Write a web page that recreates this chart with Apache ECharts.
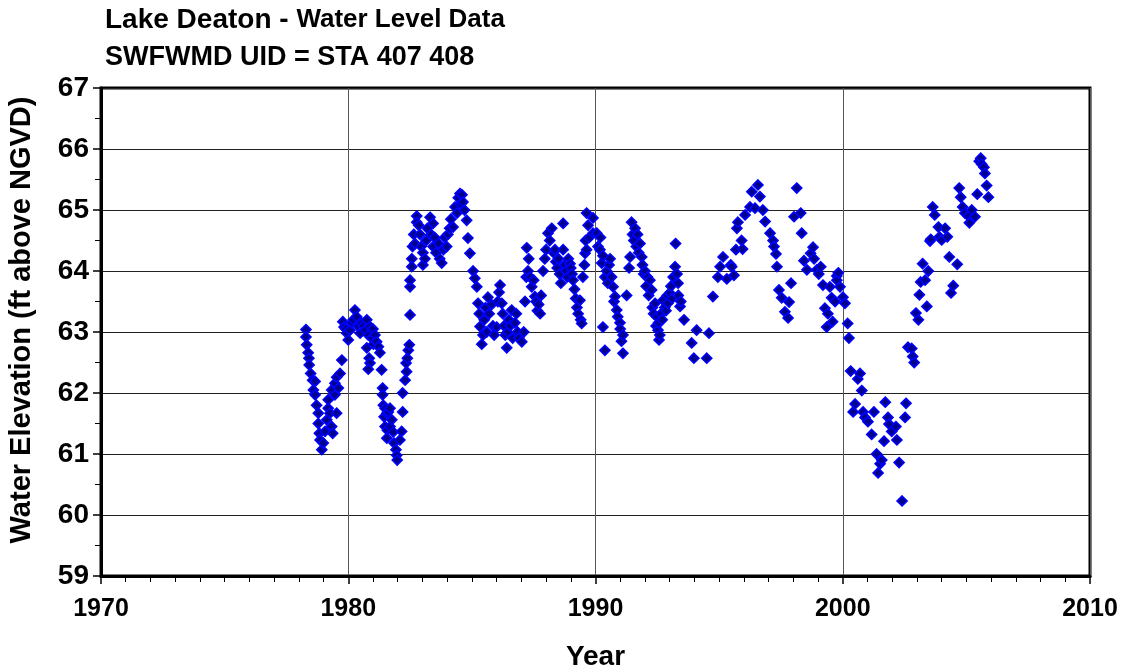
<!DOCTYPE html>
<html>
<head>
<meta charset="utf-8">
<script src="https://cdn.jsdelivr.net/npm/echarts@6/dist/echarts.min.js"></script>
<style>
html,body{margin:0;padding:0;background:#fff;}
#chart{width:1123px;height:670px;}
</style>
</head>
<body>
<div id="chart"></div>
<script>
// Water level readings [decimal year, elevation ft above NGVD]
var levels1978to1982 = [
[1978.29,63.04],[1978.29,62.92],[1978.32,62.79],[1978.38,62.66],[1978.41,62.57],[1978.42,62.46],[1978.48,62.32],[1978.56,62.21],[1978.59,62.05],[1978.66,62.19],[1978.66,61.97],[1978.72,61.80],[1978.79,61.67],[1978.79,61.50],[1978.83,61.34],[1978.86,61.23],[1978.93,61.07],[1978.99,61.18],[1979.06,61.37],[1979.13,61.56],[1979.19,61.75],[1979.19,61.89],[1979.26,61.67],[1979.33,61.45],[1979.37,61.34],[1979.33,62.05],[1979.46,62.16],[1979.46,61.97],[1979.53,61.67],[1979.53,62.26],[1979.60,62.08],[1979.67,62.32],[1979.74,62.54],[1979.78,63.17],[1979.83,63.08],[1979.90,63.05],[1979.94,62.98],[1980.00,62.87],[1980.07,63.03],[1980.14,63.15],[1980.20,63.20],[1980.27,63.36],[1980.34,63.25],[1980.41,63.09],[1980.48,62.98],[1980.54,63.15],[1980.60,63.10],[1980.68,63.03],[1980.75,63.20],[1980.81,62.95],[1980.88,63.09],[1980.95,62.90],[1980.75,62.74],[1980.85,62.57],[1980.88,62.49],[1980.81,62.39],[1981.00,63.05],[1981.02,62.80],[1981.08,62.95],[1981.15,62.84],[1981.22,62.76],[1981.28,62.66],[1981.35,62.38],[1981.39,62.08],[1981.39,61.97],[1981.42,61.80],[1981.49,61.75],[1981.45,61.61],[1981.56,61.67],[1981.62,61.69],[1981.69,61.75],[1981.49,61.45],[1981.58,61.39],[1981.56,61.26],[1981.69,61.45],[1981.76,61.56],[1981.82,61.36],[1981.85,61.18],[1981.93,61.07],[1981.96,60.98],[1981.98,60.90],[1982.09,61.23],[1982.16,61.37],[1982.20,61.69],[1982.20,62.00],[1982.30,62.21],[1982.36,62.35],[1982.34,62.49],[1982.39,62.57],[1982.43,62.70],[1982.47,62.79],[1982.50,63.28],[1982.50,63.74]
];
var levels1982to1990 = [
[1982.50,63.85],[1982.57,64.20],[1982.57,64.07],[1982.60,64.40],[1982.65,64.60],[1982.70,64.45],[1982.77,64.90],[1982.77,64.80],[1982.85,64.75],[1982.90,64.60],[1982.95,64.40],[1983.02,64.30],[1983.02,64.10],[1983.10,64.20],[1983.15,64.50],[1983.20,64.70],[1983.31,64.88],[1983.35,64.60],[1983.43,64.78],[1983.43,64.40],[1983.50,64.55],[1983.55,64.30],[1983.65,64.45],[1983.70,64.20],[1983.78,64.13],[1983.85,64.35],[1983.90,64.55],[1983.98,64.40],[1984.03,64.60],[1984.10,64.70],[1984.15,64.85],[1984.24,64.72],[1984.32,65.05],[1984.40,64.95],[1984.45,65.20],[1984.52,65.27],[1984.55,65.10],[1984.60,65.25],[1984.64,65.13],[1984.70,65.00],[1984.79,64.83],[1984.84,64.54],[1984.92,64.29],[1985.05,64.00],[1985.12,63.88],[1985.20,63.74],[1985.25,63.47],[1985.30,63.30],[1985.33,63.09],[1985.40,62.80],[1985.45,62.95],[1985.50,63.20],[1985.55,63.40],[1985.60,63.00],[1985.65,63.57],[1985.70,63.30],[1985.80,63.45],[1985.85,63.10],[1985.90,62.95],[1986.00,63.08],[1986.05,63.50],[1986.10,63.65],[1986.14,63.77],[1986.21,63.47],[1986.25,63.30],[1986.30,63.10],[1986.35,62.95],[1986.41,62.74],[1986.45,63.00],[1986.50,63.20],[1986.55,63.10],[1986.61,63.36],[1986.65,62.90],[1986.74,63.15],[1986.80,63.30],[1986.85,63.00],[1986.90,62.90],[1987.02,62.84],[1987.10,63.00],[1987.15,63.50],[1987.20,63.90],[1987.22,64.38],[1987.27,64.00],[1987.30,64.20],[1987.35,63.90],[1987.42,63.74],[1987.50,63.85],[1987.55,63.58],[1987.60,63.50],[1987.65,63.35],[1987.70,63.45],[1987.76,63.30],[1987.80,63.60],[1987.88,64.00],[1987.95,64.20],[1988.00,64.35],[1988.08,64.62],[1988.15,64.50],[1988.23,64.70],[1988.30,64.30],[1988.36,64.35],[1988.40,64.15],[1988.45,64.05],[1988.50,64.20],[1988.55,63.95],[1988.60,63.80],[1988.69,64.78],[1988.69,64.35],[1988.75,64.10],[1988.80,64.00],[1988.85,63.90],[1988.90,64.20],[1988.97,64.12],[1989.00,64.05],[1989.05,63.95],[1989.09,63.85],[1989.15,63.70],[1989.20,63.55],[1989.25,63.40],[1989.30,63.30],[1989.37,63.52],[1989.40,63.20],[1989.44,63.14],[1989.49,63.90],[1989.55,64.10],[1989.58,64.29],[1989.60,64.50],[1989.64,64.95],[1989.64,64.35],[1989.70,64.75],[1989.75,64.55],[1989.90,64.62],[1989.90,64.87]
];
var levels1990to1995 = [
[1990.05,64.62],[1990.10,64.40],[1990.18,64.35],[1990.20,64.55],[1990.25,64.13],[1990.30,64.25],[1990.30,63.08],[1990.38,63.90],[1990.38,62.70],[1990.45,64.00],[1990.50,63.80],[1990.55,64.10],[1990.59,64.20],[1990.65,63.90],[1990.71,63.74],[1990.75,63.50],[1990.79,63.58],[1990.86,63.36],[1990.90,63.25],[1990.99,63.15],[1991.00,63.05],[1991.05,62.85],[1991.11,62.95],[1991.11,62.65],[1991.26,63.60],[1991.36,64.05],[1991.40,64.23],[1991.46,64.80],[1991.50,64.60],[1991.55,64.50],[1991.60,64.70],[1991.65,64.40],[1991.70,64.60],[1991.75,64.30],[1991.80,64.45],[1991.87,64.23],[1991.90,64.10],[1991.95,63.95],[1992.00,64.00],[1992.05,63.75],[1992.10,63.90],[1992.15,63.60],[1992.20,63.85],[1992.27,63.69],[1992.30,63.40],[1992.35,63.30],[1992.41,63.47],[1992.45,63.10],[1992.48,63.25],[1992.53,63.03],[1992.55,63.15],[1992.57,62.87],[1992.60,62.95],[1992.65,63.30],[1992.70,63.20],[1992.73,63.52],[1992.80,63.40],[1992.85,63.35],[1992.90,63.60],[1992.93,63.47],[1993.01,63.64],[1993.05,63.75],[1993.10,63.55],[1993.14,63.90],[1993.22,64.07],[1993.24,64.45],[1993.30,63.95],[1993.34,63.80],[1993.35,63.60],[1993.42,63.42],[1993.45,63.50],[1993.58,63.20],[1993.89,62.82],[1993.98,62.57],[1994.09,63.03],[1994.50,62.57],[1994.59,62.98],[1994.75,63.58],[1994.95,63.90]
];
var levels1995to2000 = [
[1995.04,64.07],[1995.16,64.23],[1995.31,63.87],[1995.47,64.10],[1995.51,64.07],[1995.60,63.93],[1995.68,64.35],[1995.72,64.70],[1995.76,64.80],[1995.91,64.50],[1995.95,64.36],[1996.05,64.92],[1996.25,65.05],[1996.32,65.30],[1996.45,65.03],[1996.57,65.41],[1996.65,65.22],[1996.77,65.00],[1996.86,64.81],[1997.06,64.62],[1997.18,64.50],[1997.22,64.40],[1997.30,64.28],[1997.34,64.07],[1997.42,63.69],[1997.53,63.56],[1997.66,63.33],[1997.79,63.23],[1997.83,63.49],[1997.91,63.80],[1998.03,64.89],[1998.14,65.36],[1998.30,64.95],[1998.34,64.62],[1998.43,64.17],[1998.55,64.02],[1998.70,64.29],[1998.80,64.39],[1998.84,64.20],[1998.95,64.02],[1999.03,63.95],[1999.11,64.07],[1999.20,63.77],[1999.28,63.39],[1999.35,63.08],[1999.40,63.30],[1999.48,63.74],[1999.55,63.56],[1999.59,63.17],[1999.69,63.50],[1999.76,63.92],[1999.76,63.85],[1999.82,63.97],[1999.89,63.74]
];
var levels2000to2006 = [
[2000.01,63.57],[2000.09,63.47],[2000.20,63.14],[2000.25,62.90],[2000.32,62.36],[2000.42,61.69],[2000.50,61.82],[2000.61,62.23],[2000.70,62.32],[2000.77,62.04],[2000.82,61.69],[2000.90,61.60],[2001.02,61.53],[2001.17,61.32],[2001.26,61.69],[2001.37,61.00],[2001.43,60.69],[2001.51,60.84],[2001.58,60.90],[2001.67,61.21],[2001.72,61.85],[2001.83,61.60],[2001.87,61.49],[2001.98,61.37],[2002.15,61.45],[2002.19,61.23],[2002.28,60.86],[2002.40,60.23],[2002.52,61.60],[2002.56,61.83],[2002.64,62.75],[2002.79,62.73],[2002.83,62.60],[2002.89,62.50],[2002.96,63.31],[2003.06,63.20],[2003.10,63.61],[2003.15,63.82],[2003.23,64.12],[2003.33,63.85],[2003.40,63.42],[2003.46,64.00],[2003.53,64.49],[2003.56,64.52],[2003.64,65.05],[2003.72,64.92],[2003.87,64.72],[2003.91,64.56],[2004.00,64.51],[2004.14,64.70],[2004.23,64.56],[2004.31,64.23],[2004.38,63.64],[2004.47,63.76],[2004.63,64.11],[2004.71,65.36],[2004.77,65.21],[2004.85,65.05],[2004.94,64.95],[2005.08,64.90],[2005.12,64.79],[2005.22,65.00],[2005.35,64.89],[2005.44,65.26],[2005.52,65.80],[2005.58,65.85],[2005.62,65.75],[2005.71,65.70],[2005.75,65.60],[2005.82,65.40],[2005.89,65.21]
];
var titleMain = 'Lake Deaton - ';
var titleSub = 'Water Level Data';
var titleLine2 = 'SWFWMD UID = STA 407 408';
var xName = 'Year';
var yName = 'Water Elevation (ft above NGVD)';

var allLevels = [].concat(levels1978to1982, levels1982to1990, levels1990to1995, levels1995to2000, levels2000to2006);

var FONT = 'Liberation Sans, Arial, sans-serif';
var chart = echarts.init(document.getElementById('chart'), null, {renderer:'canvas'});
chart.setOption({
  animation: false,
  backgroundColor: '#ffffff',
  title: [
    {left: 100, top: 1, text: '{a|' + titleMain + '}{b|' + titleSub + '}',
     textStyle: {rich: {
       a: {fontSize: 28, fontWeight: 'bold', color: '#000', fontFamily: FONT},
       b: {fontSize: 26, fontWeight: 'bold', color: '#000', fontFamily: FONT}
     }}},
    {left: 100, top: 39, text: titleLine2,
     textStyle: {fontSize: 27, fontWeight: 'bold', color: '#000', fontFamily: FONT}}
  ],
  grid: {left: 101, right: 33, top: 88, bottom: 94, show: true, borderColor: '#000', borderWidth: 3, outerBoundsMode: 'none'},
  xAxis: {
    type: 'value', min: 1970, max: 2010, interval: 10,
    name: xName, nameLocation: 'middle', nameGap: 67,
    nameTextStyle: {fontSize: 28, fontWeight: 'bold', color: '#000', fontFamily: FONT},
    axisLine: {show: true, onZero: false, lineStyle: {color: '#000', width: 3}},
    axisTick: {show: true, length: 8, lineStyle: {color: '#000', width: 1.5}},
    minorTick: {show: true, splitNumber: 10, length: 6, lineStyle: {color: '#000', width: 1}},
    splitLine: {show: true, lineStyle: {color: '#555', width: 1}},
    axisLabel: {fontSize: 25, fontWeight: 'bold', color: '#000', fontFamily: FONT, margin: 21,
      formatter: function (v) { return String(v); }}
  },
  yAxis: {
    type: 'value', min: 59, max: 67, interval: 1,
    name: yName, nameLocation: 'middle', nameGap: 65,
    nameTextStyle: {fontSize: 29, fontWeight: 'bold', color: '#000', fontFamily: FONT, padding: [0, 0, 0, 24]},
    axisLine: {show: true, onZero: false, lineStyle: {color: '#000', width: 3}},
    axisTick: {show: true, length: 8, lineStyle: {color: '#000', width: 1.5}},
    minorTick: {show: true, splitNumber: 2, length: 6, lineStyle: {color: '#000', width: 1}},
    splitLine: {show: true, lineStyle: {color: '#222', width: 1}},
    axisLabel: {fontSize: 28, fontWeight: 'bold', color: '#000', fontFamily: FONT, margin: 12}
  },
  series: [{
    type: 'scatter',
    data: allLevels,
    symbol: 'diamond',
    symbolSize: 10,
    itemStyle: {color: '#00008B', borderColor: '#0000FF', borderWidth: 1.6, opacity: 1}
  }]
});
</script>
</body>
</html>
